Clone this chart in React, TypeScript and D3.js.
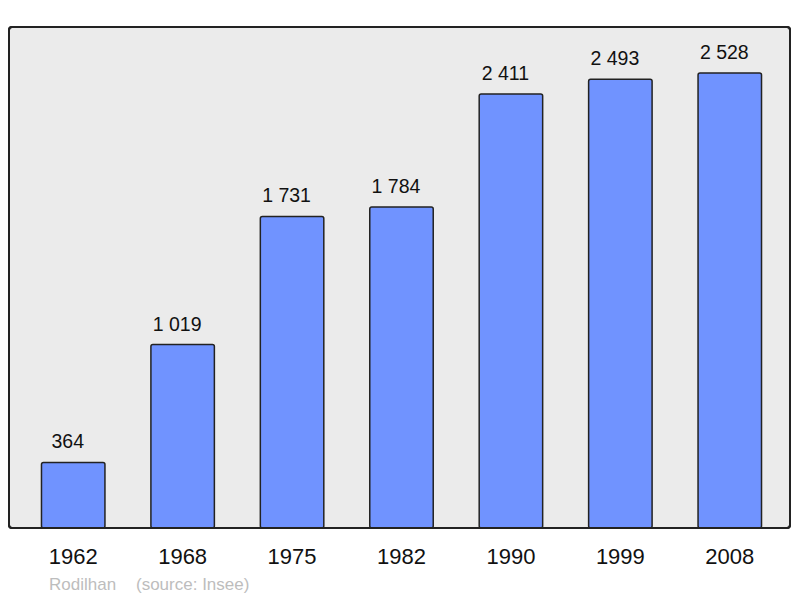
import React from "react";
import * as d3 from "d3";

const years = ["1962", "1968", "1975", "1982", "1990", "1999", "2008"];
const populations = [364, 1019, 1731, 1784, 2411, 2493, 2528];
const valueLabels = ["364", "1 019", "1 731", "1 784", "2 411", "2 493", "2 528"];
const footerName = "Rodilhan";
const footerSource = "(source: Insee)";

export default function App() {
  const W = 800, H = 598;
  const frame = { x: 9, y: 27, w: 781, h: 501 };
  const x = d3.scaleBand<string>().domain(years).range([18.5, 784.5]).paddingInner(0.42).paddingOuter(0.21);
  const y = d3.scaleLinear().domain([0, 2800]).range([528, 24]);
  const font = "'Liberation Sans', Arial, sans-serif";
  return (
    <svg width={W} height={H} style={{ position: "absolute", left: 0, top: 0 }} fontFamily={font}>
      <rect x={frame.x} y={frame.y} width={frame.w} height={frame.h} rx={3} fill="#ebebeb" stroke="#222" strokeWidth={2} />
      {populations.map((v, i) => {
        const bx = x(years[i])!;
        return (
          <g key={years[i]}>
            <rect x={bx} y={y(v)} width={x.bandwidth()} height={y(0) - y(v)} rx={2} fill="#7093ff" stroke="#222" strokeWidth={1.5} />
            <text x={bx + x.bandwidth() / 2 - 5.5} y={y(v) - 14} textAnchor="middle" fontSize={19.5} fill="#111">{valueLabels[i]}</text>
            <text x={bx + x.bandwidth() / 2} y={564} textAnchor="middle" fontSize={22} fill="#111">{years[i]}</text>
          </g>
        );
      })}
      <rect x={frame.x} y={frame.y} width={frame.w} height={frame.h} rx={3} fill="none" stroke="#222" strokeWidth={2} />
      <text x={49} y={590} fontSize={17} fill="#bdbdbd">{footerName}</text>
      <text x={136} y={590} fontSize={17} fill="#bdbdbd">{footerSource}</text>
    </svg>
  );
}
